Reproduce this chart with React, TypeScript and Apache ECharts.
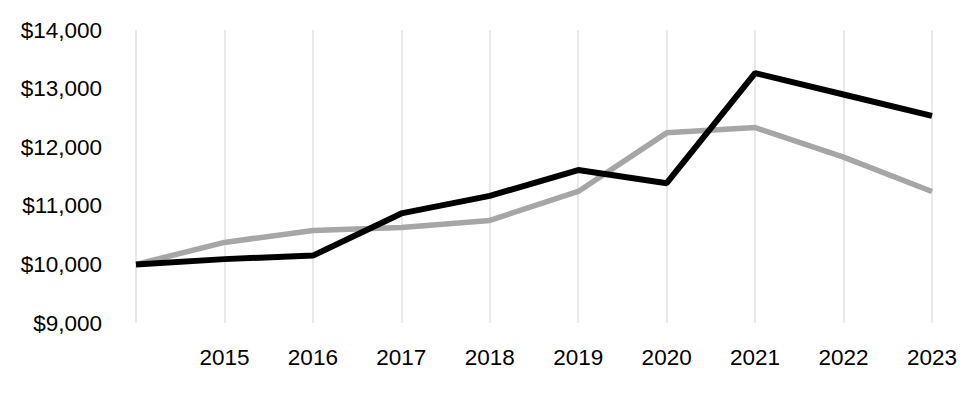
import React, { useEffect, useRef } from "react";
import * as echarts from "echarts";

const categories = ["", "2015", "2016", "2017", "2018", "2019", "2020", "2021", "2022", "2023"];
const blackSeries = [10000, 10090, 10150, 10870, 11170, 11610, 11385, 13265, 12900, 12535];
const graySeries = [10000, 10375, 10580, 10630, 10750, 11245, 12245, 12335, 11830, 11245];
const yMin = 9000;
const yMax = 14000;
const yStep = 1000;

const FONT = "'Liberation Sans', Arial, sans-serif";

export default function App() {
  const ref = useRef<HTMLDivElement>(null);
  useEffect(() => {
    if (!ref.current) return;
    const chart = echarts.init(ref.current, null, { renderer: "svg" });
    chart.setOption({
      animation: false,
      backgroundColor: "#ffffff",
      grid: { left: 136, right: 27, top: 30, bottom: 77, containLabel: false },
      xAxis: {
        type: "category",
        data: categories,
        boundaryGap: false,
        axisLine: { show: false },
        axisTick: { show: false },
        axisLabel: { color: "#000", fontSize: 22.5, fontFamily: FONT, margin: 23 },
        splitLine: { show: true, lineStyle: { color: "#e3e3e3", width: 1.5 } },
      },
      yAxis: {
        type: "value",
        min: yMin,
        max: yMax,
        interval: yStep,
        axisLine: { show: false },
        axisTick: { show: false },
        splitLine: { show: false },
        axisLabel: {
          color: "#000",
          fontSize: 22.5,
          fontFamily: FONT,
          margin: 34,
          formatter: (v: number) => "$" + v.toLocaleString("en-US"),
        },
      },
      series: [
        {
          type: "line",
          data: graySeries,
          symbol: "none",
          lineStyle: { color: "#a6a6a6", width: 5.5 },
          z: 2,
        },
        {
          type: "line",
          data: blackSeries,
          symbol: "none",
          lineStyle: { color: "#000000", width: 6 },
          z: 3,
        },
      ],
    });
    return () => chart.dispose();
  }, []);
  return (
    <div
      ref={ref}
      style={{ position: "fixed", left: 0, top: 0, width: 960, height: 400 }}
    />
  );
}
